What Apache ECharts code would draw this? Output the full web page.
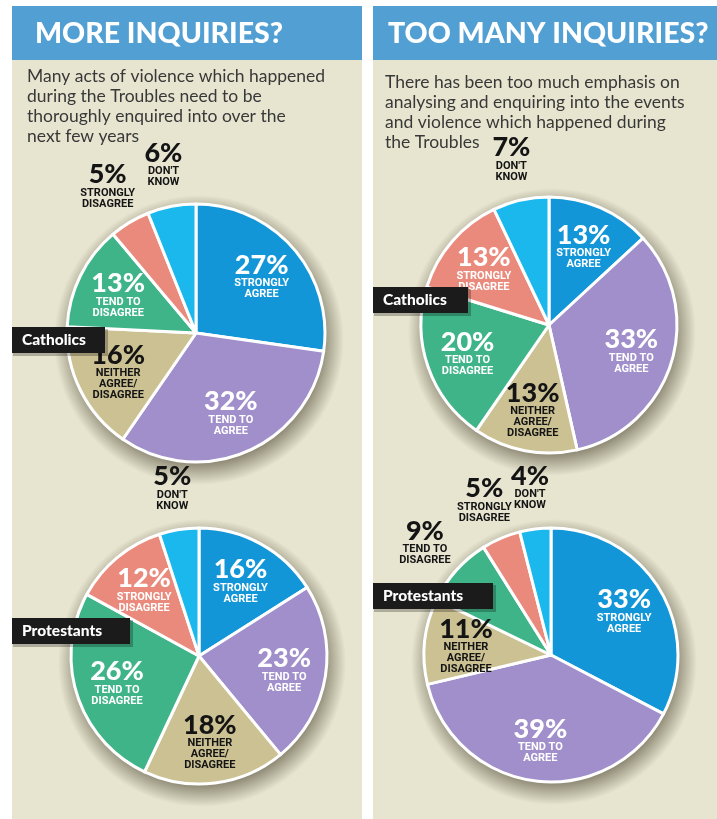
<!DOCTYPE html>
<html>
<head>
<meta charset="utf-8">
<script src="https://cdn.jsdelivr.net/npm/echarts@6/dist/echarts.min.js"></script>
<style>
  html, body { margin: 0; padding: 0; background: #fff; }
  #chart { width: 717px; height: 819px; }
</style>
</head>
<body>
<div id="chart"></div>
<script>
// answer categories, in clockwise order from 12 o'clock
const answers = ['STRONGLY\nAGREE', 'TEND TO\nAGREE', 'NEITHER\nAGREE/\nDISAGREE', 'TEND TO\nDISAGREE', 'STRONGLY\nDISAGREE', "DON'T\nKNOW"];
const sliceColors = ['#1396d8', '#a08fcb', '#cbc193', '#40b489', '#e98a7c', '#1bb8ee'];

// "more inquiries?" (%)
const moreCatholics = [27, 32, 16, 13, 5, 6];
const moreProtestants = [16, 23, 18, 26, 12, 5];
// "too many inquiries?" (%)
const tooManyCatholics = [13, 33, 13, 20, 13, 7];
const tooManyProtestants = [33, 39, 11, 9, 5, 4];

const groupNames = ['Catholics', 'Protestants'];
const panelTitles = ['MORE INQUIRIES?', 'TOO MANY INQUIRIES?'];
const panelTexts = [
  'Many acts of violence which happened\nduring the Troubles need to be\nthoroughly enquired into over the\nnext few years',
  'There has been too much emphasis on\nanalysing and enquiring into the events\nand violence which happened during\nthe Troubles'
];

const beige = '#e7e5d0';
const headerBlue = '#519fd3';

const pies = [
  { values: moreCatholics, center: [196, 333], r: 129, outsideMax: 7 },
  { values: moreProtestants, center: [199, 656], r: 128, outsideMax: 7 },
  { values: tooManyCatholics, center: [549, 325], r: 128, outsideMax: 7 },
  { values: tooManyProtestants, center: [551, 655], r: 127, outsideMax: 9 }
];

const rich = {
  p: { fontFamily: 'Lato', fontWeight: 900, fontSize: 27, lineHeight: 26 },
  l: { fontFamily: "'Liberation Sans Narrow', Roboto, sans-serif", fontWeight: 'bold', fontSize: 11, lineHeight: 11 }
};

function labelText(p) {
  const lines = answers[p.dataIndex].split('\n');
  return '{p|' + p.value + '%}\n' + lines.map(s => '{l|' + s + '}').join('\n');
}

const series = [];
pies.forEach(pie => {
  // the pie itself
  series.push({
    type: 'pie', center: pie.center, radius: pie.r, startAngle: 90, clockwise: true, z: 2,
    itemStyle: { borderColor: '#fff', borderWidth: 3 },
    label: { show: false }, labelLine: { show: false },
    emphasis: { disabled: true },
    data: pie.values.map((v, i) => ({ value: v, name: answers[i], itemStyle: { color: sliceColors[i] } }))
  });
  // labels in the slices (at about 0.65 r)
  series.push({
    type: 'pie', silent: true, center: pie.center, radius: pie.r * 1.3, startAngle: 90, z: 3,
    avoidLabelOverlap: false, labelLayout: { hideOverlap: false },
    itemStyle: { color: 'rgba(0,0,0,0)' }, labelLine: { show: false },
    emphasis: { disabled: true },
    label: { position: 'inside', formatter: labelText, rich: rich, color: '#fff' },
    data: pie.values.map((v, i) => ({
      value: v,
      label: { show: v > pie.outsideMax, color: i === 2 ? '#141414' : '#fff' }
    }))
  });
  // labels outside the small slices (at about 1.3 r)
  series.push({
    type: 'pie', silent: true, center: pie.center, radius: pie.r * 2.62, startAngle: 90, z: 3,
    avoidLabelOverlap: false, labelLayout: { hideOverlap: false },
    itemStyle: { color: 'rgba(0,0,0,0)' }, labelLine: { show: false },
    emphasis: { disabled: true },
    label: { position: 'inside', formatter: labelText, rich: rich, color: '#141414' },
    data: pie.values.map(v => ({ value: v, label: { show: v <= pie.outsideMax } }))
  });
});

const panels = [{ x: 12, w: 350 }, { x: 373, w: 344 }];
const graphic = [];
panels.forEach((pn, k) => {
  graphic.push({ type: 'rect', z: 0, shape: { x: pn.x, y: 6, width: pn.w, height: 813 }, style: { fill: beige } });
  graphic.push({ type: 'rect', z: 0, shape: { x: pn.x, y: 6, width: pn.w, height: 54 }, style: { fill: headerBlue } });
  graphic.push({
    type: 'text', z: 1, x: pn.x + (k === 0 ? 23 : 15), y: 34,
    style: { text: panelTitles[k], fill: '#fff', fontFamily: 'Lato', fontWeight: 900, fontSize: 28.5, verticalAlign: 'middle' }
  });
  graphic.push({
    type: 'text', z: 1, x: pn.x + (k === 0 ? 15 : 12), y: k === 0 ? 66 : 72,
    style: { text: panelTexts[k], fill: '#383838', fontFamily: 'Lato', fontSize: 17.5, lineHeight: 20, verticalAlign: 'top' }
  });
});

// soft drop shadow behind each pie (radial fade, offset down)
pies.forEach(pie => {
  const rs = pie.r + 16;
  const inner = (pie.r - 6) / rs;
  graphic.push({
    type: 'circle', z: 1, silent: true,
    shape: { cx: pie.center[0] + 3, cy: pie.center[1] + 7, r: rs },
    style: {
      fill: {
        type: 'radial', x: 0.5, y: 0.5, r: 0.5,
        colorStops: [
          { offset: 0, color: 'rgba(70,64,45,0.55)' },
          { offset: inner, color: 'rgba(70,64,45,0.55)' },
          { offset: 1, color: 'rgba(70,64,45,0)' }
        ]
      }
    }
  });
});

// group tags
const tags = [
  { x: 12, y: 327, w: 93, text: groupNames[0] },
  { x: 12, y: 618, w: 118, text: groupNames[1] },
  { x: 373, y: 287, w: 95, text: groupNames[0] },
  { x: 373, y: 583, w: 120, text: groupNames[1] }
];
tags.forEach(t => {
  graphic.push({
    type: 'rect', z: 19, silent: true, shape: { x: t.x + 1, y: t.y + 2, width: t.w + 2, height: 27 },
    style: { fill: 'rgba(0,0,0,0.25)' }
  });
  graphic.push({
    type: 'rect', z: 20, shape: { x: t.x, y: t.y, width: t.w, height: 26 },
    style: { fill: '#1b1b1b' }
  });
  graphic.push({
    type: 'text', z: 21, x: t.x + 10, y: t.y + 13,
    style: { text: t.text, fill: '#fff', fontFamily: 'Lato', fontWeight: 900, fontSize: 15.5, verticalAlign: 'middle' }
  });
});

const chart = echarts.init(document.getElementById('chart'));
chart.setOption({
  animation: false,
  backgroundColor: '#fff',
  graphic: graphic,
  series: series
});
</script>
</body>
</html>
